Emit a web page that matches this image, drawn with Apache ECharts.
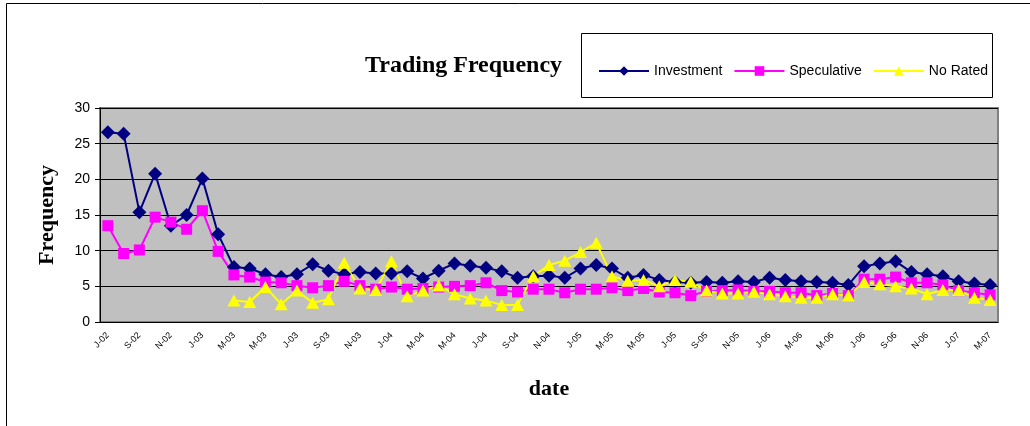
<!DOCTYPE html>
<html>
<head>
<meta charset="utf-8">
<script src="https://cdn.jsdelivr.net/npm/echarts@6/dist/echarts.min.js"></script>
<style>
  html, body { margin: 0; padding: 0; background: #fff; }
  #chart { width: 1030px; height: 426px; }
</style>
</head>
<body>
<div id="chart"></div>
<script>
var months = [
  'J-02', 'A-02', 'S-02', 'O-02', 'N-02', 'D-02',
  'J-03', 'F-03', 'M-03', 'A-03', 'M-03', 'J-03', 'J-03', 'A-03', 'S-03', 'O-03', 'N-03', 'D-03',
  'J-04', 'F-04', 'M-04', 'A-04', 'M-04', 'J-04', 'J-04', 'A-04', 'S-04', 'O-04', 'N-04', 'D-04',
  'J-05', 'F-05', 'M-05', 'A-05', 'M-05', 'J-05', 'J-05', 'A-05', 'S-05', 'O-05', 'N-05', 'D-05',
  'J-06', 'F-06', 'M-06', 'A-06', 'M-06', 'J-06', 'J-06', 'A-06', 'S-06', 'O-06', 'N-06', 'D-06',
  'J-07', 'F-07', 'M-07'
]
var investment = [
  26.6, 26.4, 15.4, 20.8, 13.5, 15.0, 20.1, 12.3,
  7.7, 7.5, 6.7, 6.3, 6.7, 8.1, 7.2,
  6.7, 7.0, 6.8, 6.8, 7.1, 6.1, 7.2, 8.2, 7.9, 7.6, 7.1, 6.2, 6.4, 6.5,
  6.2, 7.5, 8.0, 7.5, 6.2, 6.6, 5.9, 5.6, 5.5, 5.6, 5.5, 5.7, 5.6, 6.2, 5.9,
  5.7, 5.6, 5.5, 5.2, 7.8, 8.2, 8.5, 7.0, 6.7, 6.4, 5.7, 5.4, 5.2
]
var speculative = [
  13.5, 9.6, 10.1, 14.7, 14.0, 13.0, 15.6, 9.9,
  6.6, 6.3, 5.6, 5.5, 5.1, 4.8, 5.1,
  5.7, 5.1, 4.6, 4.9, 4.6, 4.7, 4.9, 5.0, 5.1, 5.5, 4.4, 4.2, 4.6, 4.6,
  4.1, 4.6, 4.6, 4.8, 4.4, 4.7, 4.2, 4.1, 3.7, 4.3, 4.4, 4.5, 4.3, 4.3, 4.1,
  4.1, 3.7, 4.0, 3.7, 6.0, 6.0, 6.3, 5.5, 5.5, 5.2, 4.4, 4.1, 3.8
]
var noRated = [
  null, null, null, null, null, null, null, null,
  3.0, 2.8, 4.9, 2.5, 4.4, 2.7, 3.2,
  8.3, 4.7, 4.5, 8.5, 3.6, 4.4, 5.1, 3.9, 3.3, 3.0, 2.4, 2.4, 6.4, 8.0,
  8.6, 9.8, 11.1, 6.4, 5.8, 5.9, 5.0, 5.9, 5.65, 4.4, 4.0, 4.0, 4.25, 3.9, 3.6,
  3.4, 3.4, 3.9, 3.7, 5.6, 5.3, 5.0, 4.7, 3.9, 4.5, 4.5, 3.4, 3.1
]
var yTicks = [0, 5, 10, 15, 20, 25, 30]

var chart = echarts.init(document.getElementById('chart'))
chart.setOption({
  animation: false,
  backgroundColor: '#fff',
  title: {
    text: 'Trading Frequency',
    left: 360,
    top: 49,
    textStyle: { fontFamily: 'Liberation Serif', fontWeight: 'bold', fontSize: 24, color: '#000' }
  },
  graphic: [
    { // chart area border (cropped on right/bottom)
      type: 'rect',
      shape: { x: 6.5, y: 3.5, width: 1100, height: 600 },
      style: { fill: null, stroke: '#000', lineWidth: 1 },
      silent: true
    },
    { // legend box
      type: 'rect',
      shape: { x: 581.5, y: 33.5, width: 411, height: 64 },
      style: { fill: '#fff', stroke: '#000', lineWidth: 1 },
      silent: true,
      z: 0
    }
  ],
  legend: {
    left: 593,
    top: 59,
    itemWidth: 50,
    itemHeight: 12,
    itemGap: 11,
    textStyle: { fontFamily: 'Liberation Sans', fontSize: 14, color: '#000' },
    data: ['Investment', 'Speculative', 'No Rated'],
    z: 5
  },
  grid: {
    left: 100,
    top: 108,
    width: 898,
    height: 214,
    show: true,
    backgroundColor: '#C0C0C0',
    borderColor: '#808080',
    borderWidth: 2
  },
  xAxis: {
    type: 'category',
    data: months,
    boundaryGap: true,
    name: 'date',
    nameLocation: 'middle',
    nameGap: 56,
    nameTextStyle: { fontFamily: 'Liberation Serif', fontWeight: 'bold', fontSize: 22, color: '#000' },
    axisLine: { lineStyle: { color: '#000', width: 1 } },
    axisTick: { interval: 1, length: 5, lineStyle: { color: '#000' } },
    axisLabel: {
      interval: 1,
      rotate: 45,
      margin: 12,
      fontFamily: 'Liberation Sans',
      fontSize: 9,
      color: '#000'
    },
    splitLine: { show: false }
  },
  yAxis: {
    type: 'value',
    min: yTicks[0],
    max: yTicks[yTicks.length - 1],
    interval: 5,
    name: 'Frequency',
    nameLocation: 'middle',
    nameRotate: 90,
    nameGap: 42,
    nameTextStyle: { fontFamily: 'Liberation Serif', fontWeight: 'bold', fontSize: 22, color: '#000' },
    axisLine: { show: true, lineStyle: { color: '#000', width: 1 } },
    axisTick: { show: true, length: 5, lineStyle: { color: '#000' } },
    axisLabel: { fontFamily: 'Liberation Sans', fontSize: 14, color: '#000', margin: 10 },
    splitLine: { show: true, lineStyle: { color: '#000', width: 1 } }
  },
  series: [
    {
      name: 'Investment',
      type: 'line',
      data: investment,
      symbol: 'diamond',
      symbolSize: 14,
      showAllSymbol: true,
      lineStyle: { color: '#000080', width: 2 },
      itemStyle: { color: '#000080' }
    },
    {
      name: 'Speculative',
      type: 'line',
      data: speculative,
      symbol: 'rect',
      symbolSize: 11,
      showAllSymbol: true,
      lineStyle: { color: '#FF00FF', width: 2 },
      itemStyle: { color: '#FF00FF' }
    },
    {
      name: 'No Rated',
      type: 'line',
      data: noRated,
      symbol: 'triangle',
      symbolSize: [13, 12],
      showAllSymbol: true,
      lineStyle: { color: '#FFFF00', width: 2 },
      itemStyle: { color: '#FFFF00' }
    }
  ]
})
</script>
</body>
</html>
